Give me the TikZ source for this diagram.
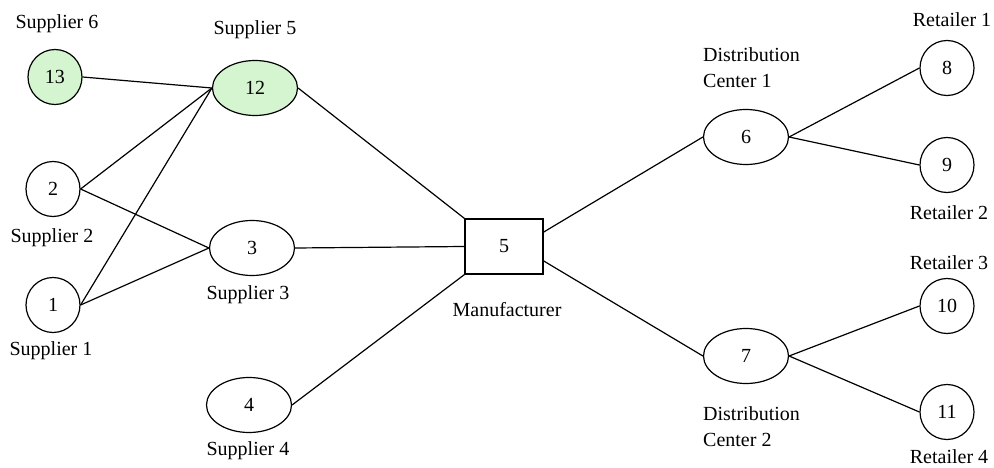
\documentclass[tikz,border=0pt]{standalone}
\usepackage{fontspec}
\setmainfont{Liberation Serif}
\usetikzlibrary{shapes.geometric}
\definecolor{nodegreen}{HTML}{D5F5D0}
\begin{document}
\begin{tikzpicture}[x=1pt,y=-1pt,
  every node/.style={font=\fontsize{20}{26}\selectfont},
  nd/.style={draw, line width=1.2pt, ellipse, inner sep=0pt},
  circ/.style={nd, minimum width=54pt, minimum height=55pt},
  ell/.style={nd, minimum width=85pt, minimum height=55pt},
  gr/.style={fill=nodegreen},
  box/.style={draw, line width=1.2pt, rectangle, minimum width=78pt, minimum height=55pt, inner sep=0pt},
  lbl/.style={inner sep=0pt},
  edge/.style={line width=1.2pt}]
\useasboundingbox (0,0) rectangle (994,468);
% nodes
\node[circ,gr] (n13) at (55,77) {13};
\node[ell,gr] (n12) at (255,88) {12};
\node[circ] (n2) at (53,189) {2};
\node[circ] (n1) at (53,305) {1};
\node[ell] (n3) at (252,248) {3};
\node[ell] (n4) at (249,405) {4};
\node[box] (n5) at (504,246.5) {5};
\node[ell] (n6) at (746,137) {6};
\node[ell] (n7) at (746,356) {7};
\node[circ] (n8) at (947,68) {8};
\node[circ] (n9) at (947,165) {9};
\node[circ] (n10) at (947,306) {10};
\node[circ] (n11) at (947,412) {11};
% labels
\node[lbl] (l6) at (57,24) {Supplier 6};
\node[lbl] (l5) at (255,30) {Supplier 5};
\node[lbl] (l2) at (52,238) {Supplier 2};
\node[lbl] (l1) at (51,351) {Supplier 1};
\node[lbl] (l3) at (248,295) {Supplier 3};
\node[lbl] (l4) at (248,451) {Supplier 4};
\node[lbl] (lm) at (507,310) {Manufacturer};
\node[lbl, anchor=west, align=left] (ld1) at (703,68) {Distribution\\Center 1};
\node[lbl, anchor=west, align=left] (ld2) at (703,427) {Distribution\\Center 2};
\node[lbl] (lr1) at (952,20) {Retailer 1};
\node[lbl] (lr2) at (949,213) {Retailer 2};
\node[lbl] (lr3) at (949,263) {Retailer 3};
\node[lbl] (lr4) at (949,457) {Retailer 4};
% edges
\draw[edge] (n13.east) -- (n12.west);
\draw[edge] (n2.east) -- (n12.west);
\draw[edge] (n1.east) -- (n12.west);
\draw[edge] (n2.east) -- (n3.west);
\draw[edge] (n1.east) -- (n3.west);
\draw[edge] (n12.east) -- (n5.north west);
\draw[edge] (n3.east) -- (n5.west);
\draw[edge] (n4.east) -- (n5.south west);
\draw[edge] (n5.20) -- (n6.west);
\draw[edge] (n5.-20) -- (n7.west);
\draw[edge] (n6.east) -- (n8.west);
\draw[edge] (n6.east) -- (n9.west);
\draw[edge] (n7.east) -- (n10.west);
\draw[edge] (n7.east) -- (n11.west);
\end{tikzpicture}
\end{document}
